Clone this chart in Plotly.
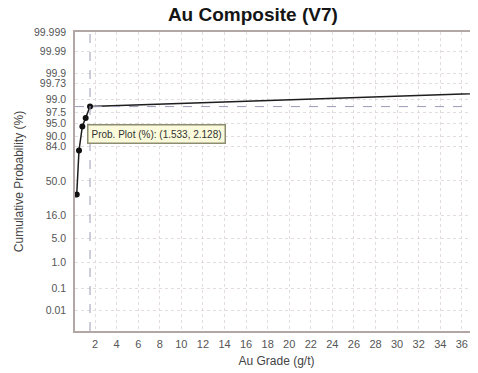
"""
Probability plot of Au composite grades (V7)
"""

from statistics import NormalDist
import plotly.graph_objects as go

# data
grades = [0.30, 0.51, 0.82, 1.13, 1.533, 48.0]          # Au grade (g/t)
cum_prob = [34.8, 80.8, 94.05, 96.4, 98.333, 99.55]     # cumulative probability (%)
prob_ticks = [0.01, 0.1, 1.0, 5.0, 16.0, 50.0, 84.0, 90.0, 95.0,
              97.5, 99.0, 99.73, 99.9, 99.99, 99.999]
prob_labels = ["0.01", "0.1", "1.0", "5.0", "16.0", "50.0", "84.0", "90.0", "95.0",
               "97.5", "99.0", "99.73", "99.9", "99.99", "99.999"]
picked = 4  # point under the cursor in the reference

nd = NormalDist()
z = [nd.inv_cdf(p / 100.0) for p in cum_prob]
z_ticks = [nd.inv_cdf(p / 100.0) for p in prob_ticks]

fig = go.Figure()

fig.add_trace(go.Scatter(
    x=grades, y=z,
    mode='lines+markers',
    line=dict(color='#1e1e1e', width=1.5),
    marker=dict(color='#111111', size=6),
    name='Prob. Plot (%)',
    showlegend=False,
))

# crosshair through the picked point
cross = dict(color='#9a9ab8', width=1, dash='dash')
fig.add_shape(type='line', xref='x', yref='paper',
              x0=grades[picked], x1=grades[picked], y0=0, y1=1, line=cross)
fig.add_shape(type='line', xref='paper', yref='y',
              x0=0, x1=1, y0=z[picked], y1=z[picked], line=cross)

fig.add_annotation(
    x=grades[picked], y=z[picked],
    xref='x', yref='y',
    xshift=-3, yshift=-17,
    xanchor='left', yanchor='top',
    text=f"Prob. Plot (%): ({grades[picked]:.3f}, {z[picked]:.3f})",
    showarrow=False,
    bgcolor='#fbfbdc',
    bordercolor='#8c8c70',
    borderwidth=1.5,
    borderpad=3,
    font=dict(size=10, color='#333333'),
)

# page body has an 8px margin, so the figure is 8px smaller than the window
fig.update_layout(
    width=470, height=365,
    margin=dict(l=67, r=0, t=24, b=42),
    paper_bgcolor='white',
    plot_bgcolor='white',
    font=dict(family='Liberation Sans, Arial, sans-serif', color='#555555'),
    title=dict(text='<b>Au Composite (V7)</b>', x=0.521, xanchor='center',
               y=1.0, yanchor='top', pad=dict(t=0),
               font=dict(size=19, color='#151515')),
)

fig.update_xaxes(
    range=[0.14, 37.5],
    tick0=0, dtick=2,
    automargin=False,
    showgrid=True, gridcolor='#e2dcdc', griddash='dot', gridwidth=1,
    showline=True, linecolor='#b3a7a5', linewidth=1.5, mirror=True,
    zeroline=False,
    ticks='', ticklabelstandoff=2,
    tickfont=dict(size=11, color='#555555'),
    title=dict(text='Au Grade (g/t)', font=dict(size=12, color='#444444'), standoff=8),
)

fig.update_yaxes(
    range=[-4.3, 4.265],
    tickvals=z_ticks, ticktext=prob_labels,
    automargin=False,
    showgrid=True, gridcolor='#e2dcdc', griddash='dot', gridwidth=1,
    showline=True, linecolor='#b3a7a5', linewidth=1.5,
    zeroline=False,
    ticks='', ticklabelstandoff=5,
    tickfont=dict(size=10.5, color='#555555'),
    title=dict(text='Cumulative Probability (%)', font=dict(size=12, color='#444444'), standoff=8),
)

fig.write_html("out.html")
